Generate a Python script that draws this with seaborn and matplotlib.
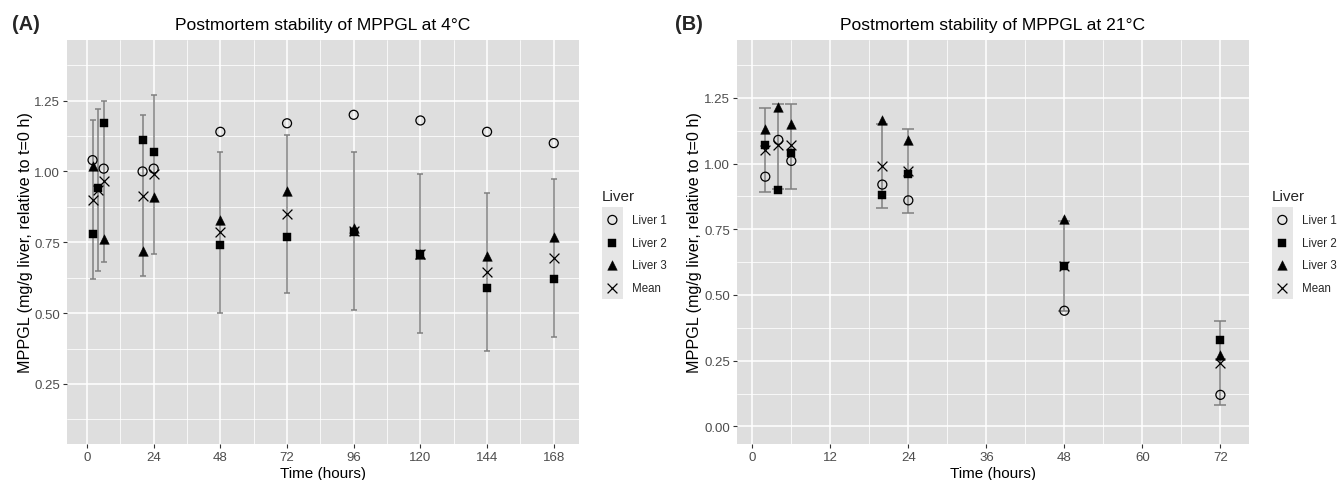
import numpy as np
import pandas as pd
import matplotlib
matplotlib.use("Agg")
import matplotlib.pyplot as plt
from matplotlib.patches import Rectangle
import seaborn as sns

# ---------------- data ----------------
series_names = ["Liver 1", "Liver 2", "Liver 3", "Mean"]

times_a = [2, 4, 6, 20, 24, 48, 72, 96, 120, 144, 168]
liver1_a = [1.04, np.nan, 1.01, 1.00, 1.01, 1.14, 1.17, 1.20, 1.18, 1.14, 1.10]
liver2_a = [0.78, 0.94, 1.17, 1.11, 1.07, 0.74, 0.77, 0.785, 0.71, 0.59, 0.62]
liver3_a = [1.02, np.nan, 0.76, 0.72, 0.91, 0.83, 0.93, 0.80, 0.71, 0.70, 0.77]
mean_a = [0.90, 0.935, 0.965, 0.915, 0.99, 0.785, 0.85, 0.79, 0.71, 0.645, 0.695]
err_lo_a = [0.62, 0.65, 0.68, 0.63, 0.71, 0.50, 0.57, 0.51, 0.43, 0.365, 0.415]
err_hi_a = [1.18, 1.22, 1.25, 1.20, 1.27, 1.07, 1.13, 1.07, 0.99, 0.925, 0.975]

times_b = [2, 4, 6, 20, 24, 48, 72]
liver1_b = [0.95, 1.09, 1.01, 0.92, 0.86, 0.44, 0.12]
liver2_b = [1.07, 0.90, 1.04, 0.88, 0.96, 0.61, 0.33]
liver3_b = [1.13, 1.215, 1.15, 1.165, 1.09, 0.79, 0.27]
mean_b = [1.05, 1.07, 1.07, 0.99, 0.97, 0.61, 0.24]
err_lo_b = [0.89, 0.905, 0.905, 0.83, 0.81, 0.44, 0.08]
err_hi_b = [1.21, 1.225, 1.225, 1.15, 1.13, 0.78, 0.40]

xticks_a = [0, 24, 48, 72, 96, 120, 144, 168]
xticks_b = [0, 12, 24, 36, 48, 60, 72]
yticks_a = [0.25, 0.50, 0.75, 1.00, 1.25]
yticks_b = [0.00, 0.25, 0.50, 0.75, 1.00, 1.25]

titles = ["Postmortem stability of MPPGL at 4°C", "Postmortem stability of MPPGL at 21°C"]
panel_tags = ["(A)", "(B)"]
xlabel = "Time (hours)"
ylabel = "MPPGL (mg/g liver, relative to t=0 h)"
legend_title = "Liver"

# ---------------- style ----------------
sns.set_theme(style="darkgrid")
plt.rcParams["font.family"] = ["Liberation Sans", "DejaVu Sans"]

PANEL_BG = "#DEDEDE"
GRID = "#FFFFFF"
ERR_COL = "#7F7F7F"
TICK_COL = "#4D4D4D"

W, H = 1338, 481
fig = plt.figure(figsize=(W / 100, H / 100), dpi=100)
fig.patch.set_facecolor("white")


def px_axes(x0, y0, x1, y1):
    return fig.add_axes([x0 / W, 1 - y1 / H, (x1 - x0) / W, (y1 - y0) / H])


ax_a = px_axes(67, 41, 579.3, 445)
ax_b = px_axes(736.7, 41, 1249, 445)

marker_style = {
    "Liver 1": dict(marker="o", s=42, facecolor="none", edgecolor="black", linewidth=0.9),
    "Liver 2": dict(marker="s", s=28, color="black", edgecolor="black", linewidth=0.3),
    "Liver 3": dict(marker="^", s=48, color="black", edgecolor="black", linewidth=0.3),
    "Mean": dict(marker="x", s=50, color="black", linewidth=0.9),
}


def make_df(times, l1, l2, l3, mn):
    rows = []
    for name, vals in zip(series_names, [l1, l2, l3, mn]):
        for t, v in zip(times, vals):
            rows.append({"Time": t, "Value": v, "Liver": name})
    return pd.DataFrame(rows)


def draw_panel(ax, times, l1, l2, l3, mn, lo, hi, xticks, yticks, xlim, ylim, capsize):
    ax.set_facecolor(PANEL_BG)
    mn_arr = np.array(mn)
    yerr = [mn_arr - np.array(lo), np.array(hi) - mn_arr]
    ax.errorbar(times, mn, yerr=yerr, fmt="none", ecolor=ERR_COL,
                elinewidth=1.1, capsize=capsize, capthick=1.1, zorder=2)
    df = make_df(times, l1, l2, l3, mn)
    for name in series_names:
        sub = df[df["Liver"] == name].dropna()
        sns.scatterplot(data=sub, x="Time", y="Value", ax=ax, label=name,
                        zorder=3, **marker_style[name])
    ax.set_xlim(*xlim)
    ax.set_ylim(*ylim)
    ax.set_xticks(xticks)
    ax.set_xticklabels([str(t) for t in xticks])
    ax.set_yticks(yticks)
    ax.set_yticklabels([f"{v:.2f}" for v in yticks])
    step_x = xticks[1] - xticks[0]
    step_y = yticks[1] - yticks[0]
    minx = [t + step_x / 2 for t in range(int(xticks[0] - step_x), int(xticks[-1] + step_x), int(step_x))]
    minx = [m for m in minx if xlim[0] < m < xlim[1]]
    miny = np.arange(yticks[0] - step_y / 2, yticks[-1] + step_y, step_y)
    miny = [m for m in miny if ylim[0] < m < ylim[1]]
    ax.set_xticks(minx, minor=True)
    ax.set_yticks(miny, minor=True)
    ax.grid(True, which="major", color=GRID, linewidth=1.1)
    ax.grid(True, which="minor", color=GRID, linewidth=0.55)
    ax.set_axisbelow(True)
    ax.tick_params(axis="both", which="major", length=3, width=0.8, color="#333333",
                   labelsize=9.5, labelcolor=TICK_COL, pad=2, direction="out",
                   bottom=True, left=True)
    ax.tick_params(axis="both", which="minor", length=0)
    for sp in ax.spines.values():
        sp.set_visible(False)
    ax.set_xlabel(xlabel, fontsize=11, color="black", labelpad=2)
    ax.set_ylabel(ylabel, fontsize=11.6, color="black", labelpad=1)
    leg = ax.get_legend()
    if leg is not None:
        leg.remove()


draw_panel(ax_a, times_a, liver1_a, liver2_a, liver3_a, mean_a, err_lo_a, err_hi_a,
           xticks_a, yticks_a, (-7.2, 177.2), (0.038, 1.464), capsize=2.0)
draw_panel(ax_b, times_b, liver1_b, liver2_b, liver3_b, mean_b, err_lo_b, err_hi_b,
           xticks_b, yticks_b, (-2.4, 76.4), (-0.067, 1.47), capsize=4.0)

for ax, title in zip([ax_a, ax_b], titles):
    ax.set_title(title, fontsize=12.6, color="black", pad=8)

fig.text(11.7 / W, 1 - 24 / H, panel_tags[0], fontsize=14.3, fontweight="bold", va="center", ha="left")
fig.text(675 / W, 1 - 24 / H, panel_tags[1], fontsize=14.3, fontweight="bold", va="center", ha="left")

# legends
for ax, lx in [(ax_a, 601.7), (ax_b, 1271.7)]:
    handles, labels = ax.get_legend_handles_labels()
    fig.patches.append(Rectangle((lx / W, 1 - 300 / H), 21.5 / W, 92 / H,
                                 transform=fig.transFigure, facecolor="#E6E6E6",
                                 edgecolor="none", zorder=0))
    leg = fig.legend(handles, labels, title=legend_title, loc="upper left",
                     bbox_to_anchor=((lx - 9.2) / W, 1 - 181 / H), frameon=False,
                     fontsize=8.3, title_fontsize=11, alignment="left",
                     handletextpad=0.8, labelspacing=0.93, handlelength=1.85,
                     borderaxespad=0, borderpad=0.8)

fig.savefig("out.png", dpi=100)
